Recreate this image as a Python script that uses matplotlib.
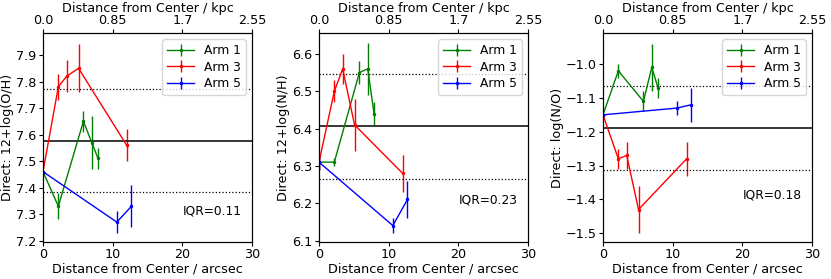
import matplotlib
matplotlib.use("Agg")
import matplotlib.pyplot as plt
import numpy as np

plt.rcParams['font.family'] = ['DejaVu Sans']
plt.rcParams['font.size'] = 9.2
for a in ('xtick', 'ytick'):
    plt.rcParams[f'{a}.major.size'] = 3.0
    plt.rcParams[f'{a}.major.pad'] = 1.6
    plt.rcParams[f'{a}.major.width'] = 0.8

arcsec_to_kpc = 0.085

# Arm radii (arcsec)
arm1_x = [0, 2.2, 5.8, 7.0, 7.9]
arm3_x = [0, 2.2, 3.4, 5.1, 12.0]
arm5_x = [0, 10.6, 12.7]

# Panel 1: 12+log(O/H)
oh_arm1 = [7.46, 7.33, 7.65, 7.57, 7.51]
oh_arm1_err = [0.0, 0.05, 0.04, 0.10, 0.04]
oh_arm3 = [7.46, 7.78, 7.82, 7.85, 7.56]
oh_arm3_err = [0.0, 0.05, 0.06, 0.09, 0.06]
oh_arm5 = [7.46, 7.27, 7.33]
oh_arm5_err = [0.0, 0.04, 0.08]
oh_lines = [7.577, 7.77, 7.383]
oh_iqr = "IQR=0.11"

# Panel 2: 12+log(N/H)
nh_arm1 = [6.31, 6.31, 6.55, 6.56, 6.44]
nh_arm1_err = [0.02, 0.01, 0.03, 0.07, 0.03]
nh_arm3 = [6.31, 6.50, 6.56, 6.41, 6.28]
nh_arm3_err = [0.02, 0.03, 0.04, 0.07, 0.05]
nh_arm5 = [6.31, 6.14, 6.21]
nh_arm5_err = [0.02, 0.02, 0.05]
nh_lines = [6.407, 6.547, 6.266]
nh_iqr = "IQR=0.23"

# Panel 3: log(N/O)
no_arm1 = [-1.15, -1.02, -1.11, -1.01, -1.07]
no_arm1_err = [0.0, 0.02, 0.03, 0.07, 0.03]
no_arm3 = [-1.15, -1.28, -1.27, -1.43, -1.28]
no_arm3_err = [0.0, 0.03, 0.04, 0.07, 0.05]
no_arm5 = [-1.15, -1.13, -1.12]
no_arm5_err = [0.0, 0.02, 0.05]
no_lines = [-1.19, -1.066, -1.314]
no_iqr = "IQR=0.18"

kpc_ticks = [0.0, 0.85, 1.7, 2.55]
kpc_labels = ["0.0", "0.85", "1.7", "2.55"]

panels = [
    dict(a1=oh_arm1, e1=oh_arm1_err, a3=oh_arm3, e3=oh_arm3_err, a5=oh_arm5, e5=oh_arm5_err,
         lines=oh_lines, iqr=oh_iqr, ylim=(7.195, 7.983), yticks=np.arange(7.2, 7.95, 0.1),
         fmt="{:.1f}", ylabel="Direct: 12+log(O/H)", iqr_y=7.31, left=43),
    dict(a1=nh_arm1, e1=nh_arm1_err, a3=nh_arm3, e3=nh_arm3_err, a5=nh_arm5, e5=nh_arm5_err,
         lines=nh_lines, iqr=nh_iqr, ylim=(6.096, 6.656), yticks=np.arange(6.1, 6.65, 0.1),
         fmt="{:.1f}", ylabel="Direct: 12+log(N/H)", iqr_y=6.209, left=319),
    dict(a1=no_arm1, e1=no_arm1_err, a3=no_arm3, e3=no_arm3_err, a5=no_arm5, e5=no_arm5_err,
         lines=no_lines, iqr=no_iqr, ylim=(-1.526, -0.908), yticks=np.arange(-1.5, -0.95, 0.1),
         fmt="{:.1f}", ylabel="Direct: log(N/O)", iqr_y=-1.387, left=603),
]

W, H = 831, 279
fig = plt.figure(figsize=(W / 100, H / 100), dpi=100)

for p in panels:
    ax = fig.add_axes([p['left'] / W, 1 - 242 / H, 209 / W, 209 / H])
    ax.errorbar(arm1_x, p['a1'], yerr=p['e1'], color='green', marker='.', ms=3, lw=1.0,
                elinewidth=1.0, label='Arm 1')
    ax.errorbar(arm3_x, p['a3'], yerr=p['e3'], color='red', marker='.', ms=3, lw=1.0,
                elinewidth=1.0, label='Arm 3')
    ax.errorbar(arm5_x, p['a5'], yerr=p['e5'], color='blue', marker='.', ms=3, lw=1.0,
                elinewidth=1.0, label='Arm 5')
    ax.axhline(p['lines'][0], color='0.15', lw=1.3)
    ax.axhline(p['lines'][1], color='k', ls=':', lw=0.9)
    ax.axhline(p['lines'][2], color='k', ls=':', lw=0.9)
    ax.set_xlim(0, 30)
    ax.set_ylim(*p['ylim'])
    ax.set_yticks(p['yticks'])
    ax.set_yticklabels([p['fmt'].format(v).replace('-', '\u2212') for v in p['yticks']])
    ax.set_xticks([0, 10, 20, 30])
    ax.set_xlabel("Distance from Center / arcsec", labelpad=0.5)
    ax.set_ylabel(p['ylabel'], labelpad=1.5)
    ax.text(20, p['iqr_y'], p['iqr'], va='center', ha='left', fontsize=8.8)
    ax.legend(loc='upper right', fontsize=8.8, handlelength=2.2, borderpad=0.4,
              labelspacing=0.3)
    ax2 = ax.twiny()
    ax2.set_xlim(0, 30 * arcsec_to_kpc)
    ax2.set_xticks(kpc_ticks)
    ax2.set_xticklabels(kpc_labels)
    ax2.set_xlabel("Distance from Center / kpc", labelpad=1.0)

fig.savefig("out.png", dpi=100)
